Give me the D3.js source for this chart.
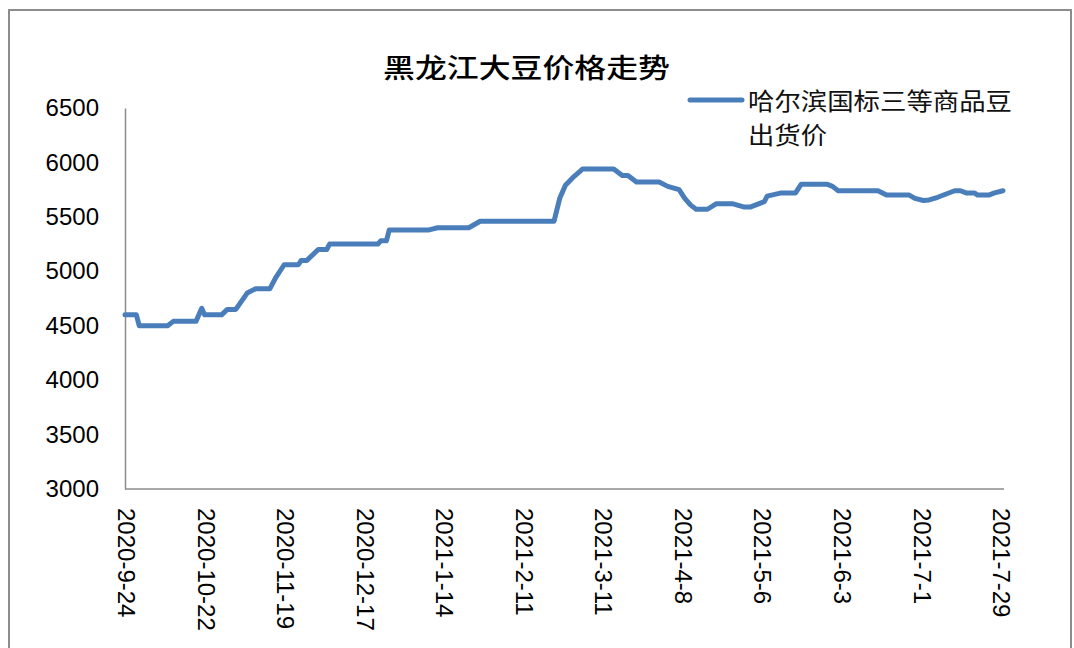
<!DOCTYPE html>
<html><head><meta charset="utf-8">
<script src="https://cdn.jsdelivr.net/npm/d3@7"></script>
<style>html,body{margin:0;padding:0;background:#fff;}svg{display:block;}</style>
</head><body>
<svg id="chart" width="1074" height="648"></svg>
<script>
const title = "黑龙江大豆价格走势";
const seriesName = ["哈尔滨国标三等商品豆", "出货价"];
const dates = ["2020-09-24","2020-09-28","2020-09-29","2020-10-09","2020-10-11","2020-10-19","2020-10-21","2020-10-22","2020-10-28","2020-10-30","2020-11-02","2020-11-06","2020-11-09","2020-11-14","2020-11-16","2020-11-19","2020-11-24","2020-11-25","2020-11-27","2020-12-01","2020-12-04","2020-12-05","2020-12-22","2020-12-23","2020-12-25","2020-12-26","2021-01-09","2021-01-12","2021-01-23","2021-01-27","2021-02-22","2021-02-24","2021-02-26","2021-03-01","2021-03-03","2021-03-04","2021-03-15","2021-03-18","2021-03-20","2021-03-23","2021-03-31","2021-04-03","2021-04-07","2021-04-09","2021-04-11","2021-04-13","2021-04-17","2021-04-20","2021-04-26","2021-04-30","2021-05-02","2021-05-07","2021-05-08","2021-05-13","2021-05-18","2021-05-20","2021-05-29","2021-05-31","2021-06-02","2021-06-16","2021-06-19","2021-06-27","2021-06-29","2021-07-02","2021-07-04","2021-07-07","2021-07-10","2021-07-13","2021-07-15","2021-07-17","2021-07-20","2021-07-21","2021-07-25","2021-07-27","2021-07-30"];
const prices = [4600,4600,4500,4500,4540,4540,4660,4600,4600,4650,4650,4800,4840,4840,4940,5060,5060,5100,5100,5200,5200,5250,5250,5280,5280,5380,5380,5400,5400,5460,5460,5670,5790,5870,5915,5940,5940,5880,5880,5820,5820,5780,5750,5670,5610,5570,5570,5620,5620,5590,5590,5640,5690,5720,5720,5800,5800,5780,5740,5740,5700,5700,5670,5650,5655,5680,5710,5740,5740,5720,5720,5700,5700,5720,5740];
const xTickLabels = ["2020-9-24","2020-10-22","2020-11-19","2020-12-17","2021-1-14","2021-2-11","2021-3-11","2021-4-8","2021-5-6","2021-6-3","2021-7-1","2021-7-29"];
const yTicks = [3000,3500,4000,4500,5000,5500,6000,6500];

const svg = d3.select("#chart");
const parse = d3.timeParse("%Y-%m-%d");
const parseTick = d3.timeParse("%Y-%m-%e");
const data = dates.map((d,i)=>({date: parse(d), value: prices[i]}));

const x = d3.scaleTime().domain([parse("2020-09-24"), parse("2021-07-30")]).range([125, 1003]);
const y = d3.scaleLinear().domain([3000, 6500]).range([489, 108]);

// outer border
svg.append("rect").attr("x", 9).attr("y", 10).attr("width", 1062).attr("height", 660)
  .attr("fill", "none").attr("stroke", "#8c8c8c").attr("stroke-width", 2);

// title
svg.append("text").attr("x", 383).attr("y", 66).attr("dominant-baseline", "central")
  .attr("font-family", "'Noto Sans CJK SC'").attr("font-size", 27).attr("font-weight", 500)
  .attr("textLength", 287).attr("lengthAdjust", "spacingAndGlyphs").attr("fill", "#000").text(title);

// y axis
const yAxis = d3.axisLeft(y).tickValues(yTicks).tickSize(0).tickPadding(26).tickFormat(d3.format("d"));
const gy = svg.append("g").attr("transform", "translate(125,0)").call(yAxis);
gy.select(".domain").attr("stroke", "#8c8c8c").attr("stroke-width", 1.5);
gy.selectAll("text").attr("font-family", "'Liberation Sans', Arial, sans-serif").attr("font-size", 24).attr("fill", "#000");

// x axis
const xAxis = d3.axisBottom(x).tickValues(xTickLabels.map(s=>parseTick(s))).tickSize(0).tickFormat((d,i)=>xTickLabels[i]);
const gx = svg.append("g").attr("transform", "translate(0,489)").call(xAxis);
gx.select(".domain").attr("stroke", "#8c8c8c").attr("stroke-width", 1.5).attr("d", "M125,0H1004");
gx.selectAll("text").attr("font-family", "'Liberation Sans', Arial, sans-serif").attr("font-size", 24).attr("fill", "#000")
  .attr("text-anchor", "start").attr("dy", null).attr("y", 0)
  .attr("dominant-baseline", "central")
  .attr("transform", "translate(1,19) rotate(90)");

// line
const line = d3.line().x(d=>x(d.date)).y(d=>y(d.value));
svg.append("path").datum(data).attr("d", line).attr("fill", "none")
  .attr("stroke", "#4a7ebb").attr("stroke-width", 5).attr("stroke-linejoin", "round").attr("stroke-linecap", "round");

// legend
svg.append("line").attr("x1", 690).attr("x2", 742).attr("y1", 100).attr("y2", 100)
  .attr("stroke", "#4a7ebb").attr("stroke-width", 5).attr("stroke-linecap", "round");
const lg = svg.append("g").attr("font-family", "'Noto Sans CJK SC'").attr("font-size", 24).attr("fill", "#111");
lg.append("text").attr("x", 748).attr("y", 99).attr("dominant-baseline", "central")
  .attr("textLength", 264).attr("lengthAdjust", "spacingAndGlyphs").text(seriesName[0]);
lg.append("text").attr("x", 748).attr("y", 133).attr("dominant-baseline", "central")
  .attr("textLength", 79).attr("lengthAdjust", "spacingAndGlyphs").text(seriesName[1]);
</script>
</body></html>
